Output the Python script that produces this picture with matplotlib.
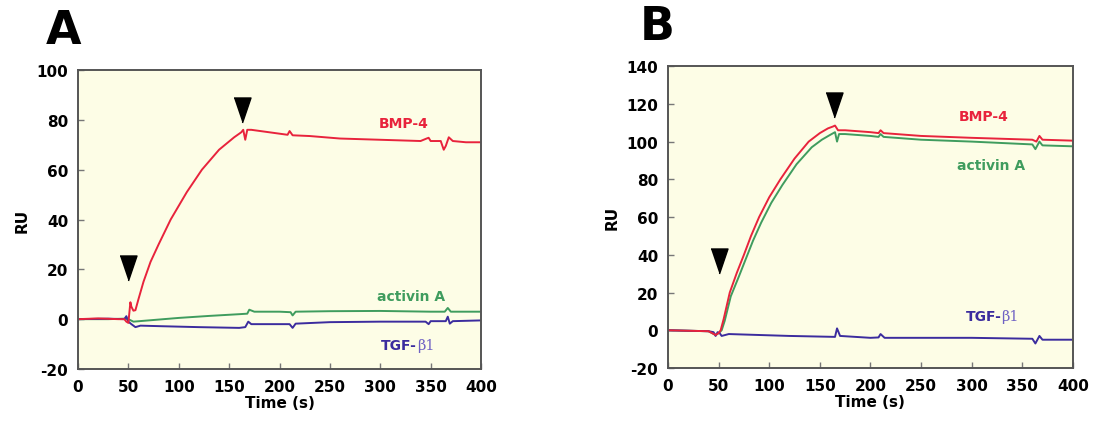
import matplotlib
matplotlib.use("Agg")
import matplotlib.pyplot as plt

plt.rcParams['font.family'] = ['DejaVu Sans']
plt.rcParams['font.weight'] = 'bold'
plt.rcParams['axes.unicode_minus'] = False

# ---- panel A data (time s, RU) ----
a_bmp_t = [0, 20, 40, 46, 48, 50, 52, 53, 55, 57, 60, 65, 72, 80, 92, 108, 123, 140, 155, 162, 164, 166, 168, 172, 190, 208, 210, 213, 230, 260, 300, 340, 346, 348, 350, 360, 363, 365, 368, 372, 385, 400]
a_bmp_y = [0, 0.3, 0, 0, -1, -1.5, 6.8, 5, 3.4, 3.6, 8, 15, 23, 30, 40, 51, 60, 68, 73, 75, 76, 72, 76, 76, 75, 74, 75.5, 73.8, 73.5, 72.5, 72, 71.5, 72.5, 72.8, 71.5, 71.5, 68, 69.5, 73, 71.5, 71, 71]
a_act_t = [0, 30, 46, 50, 55, 70, 100, 130, 160, 168, 170, 175, 200, 211, 213, 216, 250, 300, 350, 364, 367, 370, 400]
a_act_y = [0, 0, 0.2, 0, -1, -0.5, 0.5, 1.3, 2, 2.2, 3.8, 3, 3, 2.8, 1.5, 3, 3.2, 3.3, 3, 3, 4.5, 3, 3]
a_tgf_t = [0, 30, 46, 48, 50, 53, 57, 62, 80, 120, 160, 166, 169, 172, 180, 210, 213, 216, 250, 300, 345, 348, 350, 365, 367, 369, 372, 400]
a_tgf_y = [0, 0.2, 0, 1.2, -1, -2, -3.2, -2.6, -2.8, -3.2, -3.5, -3.2, -1, -2, -2, -2, -3.5, -1.8, -1.2, -1, -1, -2, -0.8, -0.8, 1, -1.8, -0.8, -0.5]

# ---- panel B data ----
b_bmp_t = [0, 40, 47, 50, 52, 55, 61, 68, 75, 82, 90, 100, 111, 125, 139, 150, 158, 163, 165, 168, 175, 200, 208, 210, 213, 250, 300, 360, 364, 367, 370, 400]
b_bmp_y = [0, -0.5, -2.5, -1.5, 0, 6, 20, 30.5, 40, 50, 60, 70.5, 80, 91, 100, 104.5, 107, 108, 108.5, 106, 106, 105, 104.5, 106, 104.5, 103, 102, 101, 100, 103, 101, 100.5]
b_act_t = [0, 40, 47, 50, 53, 56, 62, 70, 77, 84, 92, 102, 113, 127, 142, 152, 160, 165, 167, 169, 175, 200, 208, 210, 213, 250, 300, 360, 363, 367, 370, 400]
b_act_y = [0, -0.5, -2.5, -1.5, 0, 5, 18, 28.5, 38, 47.5, 57, 67.5, 77, 88, 97, 101, 103.5, 105, 100, 104, 104, 103, 102.5, 104, 102.5, 101, 100, 98.5, 96, 100, 98, 97.5]
b_tgf_t = [0, 40, 45, 47, 49, 51, 53, 60, 120, 165, 167, 170, 200, 208, 210, 214, 250, 300, 360, 363, 367, 370, 400]
b_tgf_y = [0, -0.5, -1, -3, -1, -1.5, -3, -2, -3, -3.5, 1, -3, -4, -3.8, -2, -4, -4, -4, -4.5, -7, -3, -5, -5]

# arrowhead positions (time, RU)
a_arrow_t = [50, 163]
a_arrow_y = [20.7, 84]
b_arrow_t = [50, 164]
b_arrow_y = [36.5, 119.5]

red = '#e8233c'
green = '#3f9c5e'
blue = '#3b2c9e'
beta_col = '#6f62c4'
bg = '#fdfde6'
spine = '#555555'
tri = [(-0.68, 1), (0.68, 1), (0, -1)]

fig = plt.figure(figsize=(11, 4.27), dpi=100)
axA = fig.add_axes([0.0709, 0.1335, 0.3664, 0.7002])
axB = fig.add_axes([0.6073, 0.1358, 0.368, 0.707])


def style(ax, ylim, step):
    ax.set_facecolor(bg)
    ax.set_xlim(0, 400)
    ax.set_ylim(*ylim)
    ax.set_xticks(range(0, 401, 50))
    ax.set_yticks(range(ylim[0], ylim[1] + 1, step))
    for s in ax.spines.values():
        s.set_color(spine)
        s.set_linewidth(1.4)
    ax.tick_params(direction='in', length=4, width=1, color='#777777', labelsize=11, pad=7)
    for lab in ax.get_xticklabels() + ax.get_yticklabels():
        lab.set_fontweight('bold')
    ax.set_xlabel('Time (s)', fontsize=11, fontweight='bold', labelpad=1)
    ax.set_ylabel('RU', fontsize=11, fontweight='bold', labelpad=5)


def tgf_label(ax, x, y):
    t1 = ax.text(x, y, 'TGF-', color=blue, fontsize=10, fontweight='bold', ha='left', va='center')
    ax.annotate('β1', xy=(1, 0.5), xycoords=t1, color=beta_col, fontsize=10.5,
                fontweight='normal', family='DejaVu Serif', ha='left', va='center')


# panel A
axA.plot(a_act_t, a_act_y, color=green, lw=1.4)
axA.plot(a_tgf_t, a_tgf_y, color=blue, lw=1.4)
axA.plot(a_bmp_t, a_bmp_y, color=red, lw=1.4)
axA.plot(a_arrow_t, a_arrow_y, ls='none', marker=tri, ms=18, color='black')
style(axA, (-20, 100), 20)
axA.text(323, 78.7, 'BMP-4', color=red, fontsize=10, fontweight='bold', ha='center', va='center')
axA.text(331, 9.3, 'activin A', color=green, fontsize=10, fontweight='bold', ha='center', va='center')
tgf_label(axA, 300.5, -10.2)
fig.text(0.0415, 0.927, 'A', fontsize=33, fontweight='bold', ha='left', va='center')

# panel B
axB.plot(b_act_t, b_act_y, color=green, lw=1.4)
axB.plot(b_tgf_t, b_tgf_y, color=blue, lw=1.4)
axB.plot(b_bmp_t, b_bmp_y, color=red, lw=1.4)
axB.plot(b_arrow_t, b_arrow_y, ls='none', marker=tri, ms=18, color='black')
style(axB, (-20, 140), 20)
axB.text(312, 113.4, 'BMP-4', color=red, fontsize=10, fontweight='bold', ha='center', va='center')
axB.text(319, 87.6, 'activin A', color=green, fontsize=10, fontweight='bold', ha='center', va='center')
tgf_label(axB, 294, 7.5)
fig.text(0.5815, 0.935, 'B', fontsize=33, fontweight='bold', ha='left', va='center')

fig.savefig('out.png', dpi=100)
